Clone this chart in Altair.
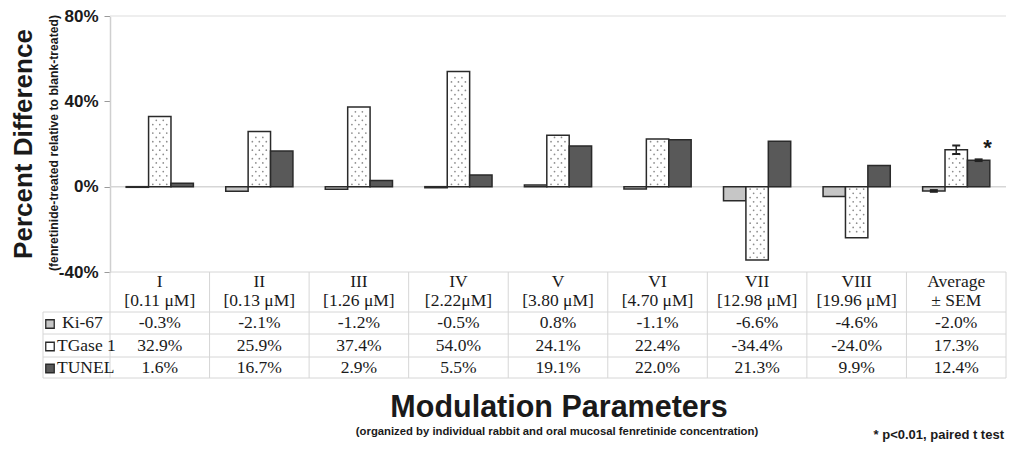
import altair as alt
import pandas as pd
import numpy as np

# ---------------- data ----------------
categories = ["I", "II", "III", "IV", "V", "VI", "VII", "VIII", "Average"]
concentrations = ["[0.11 μM]", "[0.13 μM]", "[1.26 μM]", "[2.22μM]", "[3.80 μM]",
                  "[4.70 μM]", "[12.98 μM]", "[19.96 μM]", "± SEM"]
series = ["Ki-67", "TGase 1", "TUNEL"]
ki67 = [-0.3, -2.1, -1.2, -0.5, 0.8, -1.1, -6.6, -4.6, -2.0]
tgase = [32.9, 25.9, 37.4, 54.0, 24.1, 22.4, -34.4, -24.0, 17.3]
tunel = [1.6, 16.7, 2.9, 5.5, 19.1, 22.0, 21.3, 9.9, 12.4]
avg_sem = [0.4, 2.0, 0.4]          # error bars on the "Average" group
y_ticks = [-40, 0, 40, 80]
series_colors = ["#c6c6c6", "#ffffff", "#595959"]

# ---------------- layout constants ----------------
W, H = 896, 256
PAD = {"left": 102, "top": 8, "right": 1, "bottom": 171}
OFFS = {"Ki-67": -0.225, "TGase 1": 0.0, "TUNEL": 0.225}
HALF = 0.1125
LEG_LEFT = -0.673                  # legend column left edge (x units)
ROW_LINES = [296, 318, 341, 362]   # table horizontal lines (px from plot top)
HEAD1_Y, HEAD2_Y = 266, 285
ROW_Y = {"Ki-67": 307, "TGase 1": 329.5, "TUNEL": 351.5}
SERIF = "Liberation Serif"
SANS = "Liberation Sans"
INK = "#1a1a1a"
LINE = "#d6d6d6"
TFS = 17.5

xs = alt.Scale(domain=[0, 9], nice=False, zero=False)
ys = alt.Scale(domain=[-40, 80], nice=False, zero=False)
cs = alt.Scale(domain=series, range=series_colors)
YAXIS = alt.Axis(values=y_ticks, labelExpr="datum.value + '%'", title=None, grid=False,
                 domainColor="#cfcfcf", domainWidth=1.5, tickColor="#9a9a9a", tickSize=6,
                 labelFont=SANS, labelFontWeight="bold", labelFontSize=17, labelColor=INK,
                 labelPadding=6)


def X(f):
    return alt.X(f, scale=xs, axis=None)


def Y(f):
    return alt.Y(f, scale=ys, axis=YAXIS)


# ---------------- frames ----------------
rows = []
for i, c in enumerate(categories):
    for s, vals in zip(series, [ki67, tgase, tunel]):
        xc = i + 0.5 + OFFS[s]
        rows.append({"cat": c, "idx": i, "series": s, "value": vals[i],
                     "xc": xc, "x0": xc - HALF, "x1": xc + HALF, "zero": 0.0,
                     "xm": i + 0.5, "label": f"{vals[i]:.1f}%"})
bars = pd.DataFrame(rows)

# stipple pattern for TGase 1 bars
dots = []
step = 2.0
for i, v in enumerate(tgase):
    sgn = 1 if v >= 0 else -1
    k = 0
    while 1.1 + k * step < abs(v) - 0.9:
        cols = [-0.07, 0.0, 0.07] if k % 2 == 0 else [-0.035, 0.035]
        for cx in cols:
            dots.append({"x": i + 0.5 + cx, "y": sgn * (1.1 + k * step)})
        k += 1
dots = pd.DataFrame(dots)

avg = bars[bars["cat"] == "Average"].reset_index(drop=True).copy()
avg["lo"] = avg["value"] - np.array(avg_sem)
avg["hi"] = avg["value"] + np.array(avg_sem)
avg["ystar"] = avg["hi"] + 5.3
caps = pd.concat([
    pd.DataFrame({"xa": avg["xc"] - 0.04, "xb": avg["xc"] + 0.04, "y": avg["lo"]}),
    pd.DataFrame({"xa": avg["xc"] - 0.04, "xb": avg["xc"] + 0.04, "y": avg["hi"]}),
]).reset_index(drop=True)

heads = pd.DataFrame({"x": [i + 0.5 for i in range(len(categories))],
                      "h1": categories[:-1] + ["Average"], "h2": concentrations})

# ---------------- layers ----------------
layers = []

# zero line and top frame line
frame = pd.DataFrame({"x": [0.0, 0.0], "x2": [9.0, 9.0], "y": [0.0, 80.0],
                      "w": ["zero", "top"]})
layers.append(alt.Chart(frame).mark_rule(strokeWidth=1.5).encode(
    x=X("x:Q"), x2="x2", y=Y("y:Q"),
    stroke=alt.Stroke("w:N", scale=alt.Scale(domain=["zero", "top"],
                                             range=[LINE, "#e8e8e8"]), legend=None)))

# bars
layers.append(alt.Chart(bars).mark_rect(stroke="#2a2a2a", strokeWidth=1.5).encode(
    x=X("x0:Q"), x2="x1", y=Y("value:Q"), y2="zero",
    fill=alt.Fill("series:N", scale=cs, legend=None)))

# stipple
layers.append(alt.Chart(dots).mark_circle(size=3, color="#8c8c8c", opacity=1).encode(
    x=X("x:Q"), y=Y("y:Q")))

# error bars
layers.append(alt.Chart(avg).mark_rule(color="#222222", strokeWidth=1.5).encode(
    x=X("xc:Q"), y=Y("lo:Q"), y2="hi"))
layers.append(alt.Chart(caps).mark_rule(color="#222222", strokeWidth=2).encode(
    x=X("xa:Q"), x2="xb", y=Y("y:Q")))

# significance asterisk
layers.append(alt.Chart(avg[avg["series"] == "TUNEL"]).mark_text(
    text="*", font=SANS, fontWeight="bold", fontSize=22, color=INK, dx=9,
    baseline="middle").encode(x=X("xc:Q"), y=Y("ystar:Q")))

# data table: vertical lines
vl = pd.DataFrame({"x": [float(v) for v in range(10)] + [LEG_LEFT],
                   "top": [float(H)] * 10 + [float(ROW_LINES[0])]})
layers.append(alt.Chart(vl).mark_rule(color=LINE, strokeWidth=1).encode(
    x=X("x:Q"), y=alt.value(H), y2=alt.value(ROW_LINES[-1])).transform_filter(
    "datum.top == %d" % H))
layers.append(alt.Chart(vl).mark_rule(color=LINE, strokeWidth=1).encode(
    x=X("x:Q"), y=alt.value(ROW_LINES[0]), y2=alt.value(ROW_LINES[-1])).transform_filter(
    "datum.top != %d" % H))

# data table: horizontal lines
layers.append(alt.Chart(pd.DataFrame({"x": [0.0], "x2": [9.0]})).mark_rule(
    color=LINE, strokeWidth=1).encode(x=X("x:Q"), x2="x2", y=alt.value(H)))
for ly in ROW_LINES:
    layers.append(alt.Chart(pd.DataFrame({"x": [LEG_LEFT], "x2": [9.0]})).mark_rule(
        color=LINE, strokeWidth=1).encode(x=X("x:Q"), x2="x2", y=alt.value(ly)))

# data table: header
layers.append(alt.Chart(heads).mark_text(font=SERIF, fontSize=TFS, color=INK,
                                         baseline="middle").encode(
    x=X("x:Q"), y=alt.value(HEAD1_Y), text="h1:N"))
layers.append(alt.Chart(heads).mark_text(font=SERIF, fontSize=TFS, color=INK,
                                         baseline="middle").encode(
    x=X("x:Q"), y=alt.value(HEAD2_Y), text="h2:N"))

# data table: values + legend keys
for s in series:
    sub = bars[bars["series"] == s]
    layers.append(alt.Chart(sub).mark_text(font=SERIF, fontSize=TFS, color=INK,
                                           baseline="middle").encode(
        x=X("xm:Q"), y=alt.value(ROW_Y[s]), text="label:N"))
    key = pd.DataFrame({"series": [s]})
    layers.append(alt.Chart(key).mark_square(size=72, stroke="#2a2a2a", strokeWidth=1.3,
                                             opacity=1).encode(
        x=alt.value(-60), y=alt.value(ROW_Y[s] + 1),
        fill=alt.Fill("series:N", scale=cs, legend=None)))
    layers.append(alt.Chart(key).mark_text(font=SERIF, fontSize=TFS, color=INK,
                                           align="left", baseline="middle").encode(
        x=alt.value(-53 if s != "Ki-67" else -48), y=alt.value(ROW_Y[s]), text="series:N"))


# titles
def label(text, x, y, size, angle=0, align="center"):
    return alt.Chart(pd.DataFrame({"t": [text]})).mark_text(
        font=SANS, fontWeight="bold", fontSize=size, color=INK, angle=angle,
        align=align, baseline="middle").encode(
        text="t:N", x=alt.value(x), y=alt.value(y))


layers.append(label("Percent Difference", -86, 128, 26, angle=270))
layers.append(label("(fenretinide-treated relative to blank-treated)", -56, 127, 12.2, angle=270))
layers.append(label("Modulation Parameters", 449, 392, 30.5))
layers.append(label("(organized by individual rabbit and oral mucosal fenretinide concentration)",
                    447, 416, 11.3))
layers.append(label("* p<0.01, paired t test", 894, 419, 13, align="right"))

chart = alt.layer(*layers).properties(
    width=W, height=H, padding=PAD,
    autosize=alt.AutoSizeParams(type="none"),
    background="white",
).configure_view(stroke=None)

chart.save("out.html", embed_options={"renderer": "svg", "actions": False})
